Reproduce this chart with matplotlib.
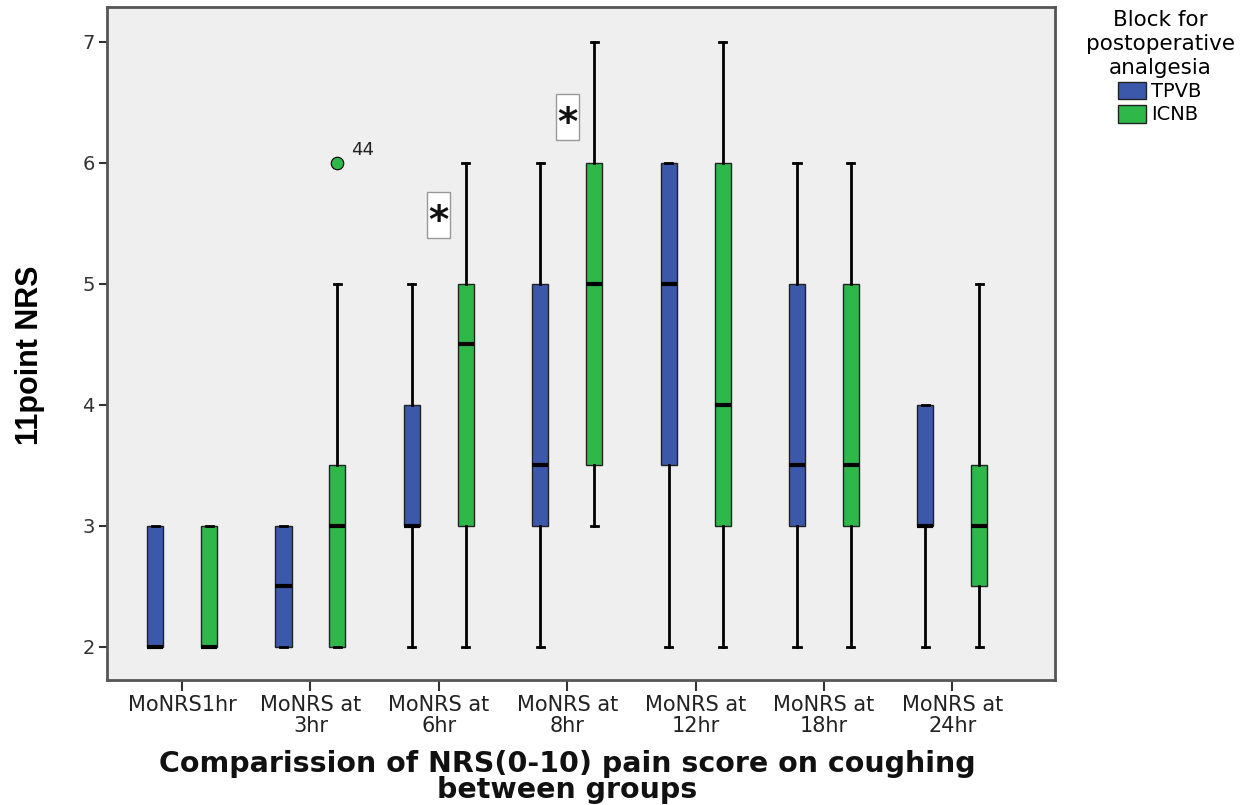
import matplotlib
matplotlib.use("Agg")
import matplotlib.pyplot as plt
import matplotlib.patches as mpatches

# Timepoints on the x axis
categories = ["MoNRS1hr", "MoNRS at\n3hr", "MoNRS at\n6hr", "MoNRS at\n8hr",
              "MoNRS at\n12hr", "MoNRS at\n18hr", "MoNRS at\n24hr"]

# TPVB group: whisker low, Q1, median, Q3, whisker high
tpvb_lo = [2, 2, 2, 2, 2, 2, 2]
tpvb_q1 = [2, 2, 3, 3, 3.5, 3, 3]
tpvb_med = [2, 2.5, 3, 3.5, 5, 3.5, 3]
tpvb_q3 = [3, 3, 4, 5, 6, 5, 4]
tpvb_hi = [3, 3, 5, 6, 6, 6, 4]

# ICNB group
icnb_lo = [2, 2, 2, 3, 2, 2, 2]
icnb_q1 = [2, 2, 3, 3.5, 3, 3, 2.5]
icnb_med = [2, 3, 4.5, 5, 4, 3.5, 3]
icnb_q3 = [3, 3.5, 5, 6, 6, 5, 3.5]
icnb_hi = [3, 5, 6, 7, 7, 6, 5]
icnb_fliers = [[], [6], [], [], [], [], []]
icnb_flier_ids = [[], ["44"], [], [], [], [], []]

# significance markers (category index, y)
sig_idx = [2, 3]
sig_y = [5.57, 6.38]

BLUE = '#3c58aa'
GREEN = '#2fb84a'
BG = '#efefef'
EDGE = '#555555'


def make_stats(lo, q1, med, q3, hi, fliers=None):
    stats = []
    for i in range(len(lo)):
        stats.append({
            'whislo': lo[i], 'q1': q1[i], 'med': med[i], 'q3': q3[i],
            'whishi': hi[i], 'fliers': fliers[i] if fliers else [],
        })
    return stats


def draw_group(ax, stats, positions, color):
    ax.bxp(
        stats, positions=positions, widths=0.125, capwidths=0.055,
        patch_artist=True, showfliers=True,
        boxprops=dict(facecolor=color, edgecolor='#222222', linewidth=1.0),
        medianprops=dict(color='black', linewidth=3.0, solid_capstyle='butt'),
        whiskerprops=dict(color='black', linewidth=2.0),
        capprops=dict(color='black', linewidth=2.0),
        flierprops=dict(marker='o', markerfacecolor=color, markeredgecolor='black',
                        markersize=9, markeredgewidth=0.8),
        manage_ticks=False,
    )


fig = plt.figure(figsize=(12.52, 8.05), dpi=100)
ax = fig.add_axes([107 / 1252, 1 - 680 / 805, (1055 - 107) / 1252, (680 - 7) / 805])
ax.set_facecolor(BG)

x = list(range(len(categories)))
off = 0.21
draw_group(ax, make_stats(tpvb_lo, tpvb_q1, tpvb_med, tpvb_q3, tpvb_hi),
           [i - off for i in x], BLUE)
draw_group(ax, make_stats(icnb_lo, icnb_q1, icnb_med, icnb_q3, icnb_hi, icnb_fliers),
           [i + off for i in x], GREEN)

# outlier case labels
for i in x:
    for val, lab in zip(icnb_fliers[i], icnb_flier_ids[i]):
        ax.annotate(lab, (i + off, val), xytext=(10, 6), textcoords='offset points',
                    fontsize=13, color='#222222', family='DejaVu Sans')

# significance stars in white boxes
for i, yv in zip(sig_idx, sig_y):
    ax.add_patch(mpatches.Rectangle((i - 0.09, yv - 0.19), 0.18, 0.38,
                                    facecolor='white', edgecolor='#999999',
                                    linewidth=1.0, zorder=3))
    ax.text(i, yv - 0.06, '*', ha='center', va='center', fontsize=28,
            fontweight='bold', color='#111111', zorder=4)

ax.set_xlim(-0.585, 6.8)
ax.set_ylim(1.727, 7.289)
ax.set_xticks(x)
ax.set_xticklabels(categories, fontsize=15, color='#222222', linespacing=1.05)
ax.set_yticks([2, 3, 4, 5, 6, 7])
ax.set_yticklabels(['2', '3', '4', '5', '6', '7'], fontsize=14, color='#333333')
ax.tick_params(axis='y', length=6, width=1.5, color='#333333', pad=3)
ax.tick_params(axis='x', length=8, width=1.5, color='#333333', pad=3)
for sp in ax.spines.values():
    sp.set_color(EDGE)
    sp.set_linewidth(2.0)

# axis labels
fig.text(30 / 1252, 1 - 355 / 805, '11point NRS', rotation=90, ha='center', va='center',
         fontsize=22, fontweight='bold', family=['Liberation Sans', 'DejaVu Sans'])
fig.text(567 / 1252, 1 - 777 / 805,
         'Comparission of NRS(0-10) pain score on coughing\nbetween groups',
         ha='center', va='center', fontsize=20.5, fontweight='bold',
         linespacing=0.9, color='#111111')

# legend outside the plot
handles = [
    mpatches.Patch(facecolor=BLUE, edgecolor='#222222', label='TPVB'),
    mpatches.Patch(facecolor=GREEN, edgecolor='#222222', label='ICNB'),
]
leg = fig.legend(handles=handles, title='Block for\npostoperative\nanalgesia',
                 loc='upper center', bbox_to_anchor=(1160 / 1252, 1 - 10 / 805),
                 frameon=False, fontsize=14, title_fontsize=15.5,
                 handlelength=1.4, handleheight=1.0, handletextpad=0.3,
                 labelspacing=0.2, borderaxespad=0, borderpad=0)
leg.get_title().set_multialignment('center')
leg.get_title().set_linespacing(1.25)

fig.savefig('out.png', dpi=100, facecolor='white')
